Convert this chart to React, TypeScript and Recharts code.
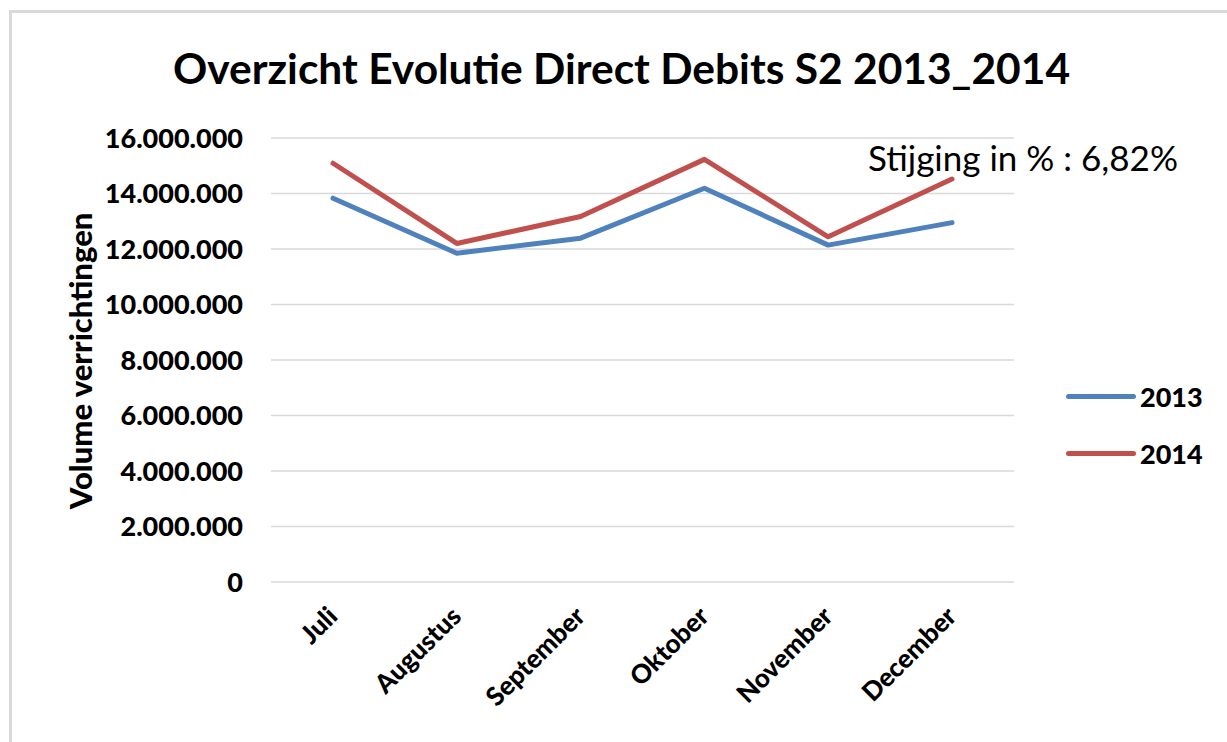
import { LineChart, Line, XAxis, YAxis, CartesianGrid, Legend } from "recharts";

const MONTHS = ["Juli", "Augustus", "September", "Oktober", "November", "December"];
const VOL_2013 = [13830000, 11850000, 12390000, 14190000, 12140000, 12950000];
const VOL_2014 = [15090000, 12200000, 13170000, 15230000, 12440000, 14520000];
const Y_TICKS = [0, 2000000, 4000000, 6000000, 8000000, 10000000, 12000000, 14000000, 16000000];

const data = MONTHS.map((m, i) => ({ month: m, y2013: VOL_2013[i], y2014: VOL_2014[i] }));

const FONT = "Lato, 'Open Sans', sans-serif";
const BLUE = "#4f81bd";
const RED = "#c0504d";

const fmt = (v: number) => String(v).replace(/\B(?=(\d{3})+(?!\d))/g, ".");

function MonthTick({ x, y, payload }: any) {
  return (
    <g transform={`translate(${x + 6},${y + 36})`}>
      <text
        textAnchor="end"
        transform="rotate(-45)"
        fontFamily={FONT}
        fontWeight={900}
        fontSize={26}
        fill="#000"
      >
        {payload.value}
      </text>
    </g>
  );
}

function LegendBox({ payload }: any) {
  return (
    <div>
      {(payload || []).map((p: any) => (
        <div
          key={p.value}
          style={{ display: "flex", alignItems: "center", height: 57, fontFamily: FONT, fontWeight: 900, fontSize: 27, color: "#000" }}
        >
          <span style={{ display: "inline-block", width: 70, height: 5, borderRadius: 3, background: p.color, marginRight: 4 }} />
          {p.value}
        </div>
      ))}
    </div>
  );
}

export default function App() {
  return (
    <div style={{ position: "fixed", left: 0, top: 0, width: 1227, height: 742, background: "#fff", overflow: "hidden" }}>
      <div
        style={{
          position: "absolute",
          left: 9,
          top: 10,
          width: 1400,
          height: 900,
          borderLeft: "3px solid #d9d9d9",
          borderTop: "3px solid #d9d9d9",
        }}
      />
      <div
        style={{
          position: "absolute",
          left: 0,
          width: 1243,
          top: 42,
          textAlign: "center",
          fontFamily: FONT,
          fontWeight: 700,
          fontSize: 42.5,
          color: "#000",
          whiteSpace: "nowrap",
        }}
      >
        Overzicht Evolutie Direct Debits S2 2013_2014
      </div>
      <div
        style={{
          position: "absolute",
          left: 80,
          top: 361,
          transform: "translate(-50%, -50%) rotate(-90deg)",
          fontFamily: FONT,
          fontWeight: 900,
          fontSize: 31,
          color: "#000",
          whiteSpace: "nowrap",
        }}
      >
        Volume verrichtingen
      </div>
      <div
        style={{
          position: "absolute",
          left: 868,
          top: 136,
          fontFamily: FONT,
          fontSize: 35,
          color: "#000",
          whiteSpace: "nowrap",
        }}
      >
        Stijging in % : 6,82%
      </div>
      <LineChart
        width={1227}
        height={742}
        data={data}
        margin={{ top: 138, right: 213, bottom: 0, left: 0 }}
        style={{ position: "absolute", left: 0, top: 0 }}
      >
        <CartesianGrid vertical={false} stroke="#d9d9d9" strokeWidth={1.5} />
        <XAxis
          dataKey="month"
          height={160}
          axisLine={false}
          tickLine={false}
          tickSize={0}
          tickMargin={0}
          interval={0}
          padding={{ left: 62, right: 62 }}
          tick={<MonthTick />}
        />
        <YAxis
          width={271}
          domain={[0, 16000000]}
          ticks={Y_TICKS}
          tickFormatter={fmt}
          axisLine={false}
          tickLine={false}
          tickSize={0}
          tickMargin={28}
          tick={{ fontFamily: FONT, fontWeight: 900, fontSize: 27, fill: "#000" }}
        />
        <Legend
          layout="vertical"
          align="center"
          verticalAlign="middle"
          content={<LegendBox />}
          wrapperStyle={{ left: 1066, top: 368, width: 160 }}
        />
        <Line
          type="linear"
          dataKey="y2013"
          name="2013"
          stroke={BLUE}
          strokeWidth={5}
          dot={false}
          strokeLinecap="round"
          strokeLinejoin="round"
          isAnimationActive={false}
        />
        <Line
          type="linear"
          dataKey="y2014"
          name="2014"
          stroke={RED}
          strokeWidth={5}
          dot={false}
          strokeLinecap="round"
          strokeLinejoin="round"
          isAnimationActive={false}
        />
      </LineChart>
    </div>
  );
}
